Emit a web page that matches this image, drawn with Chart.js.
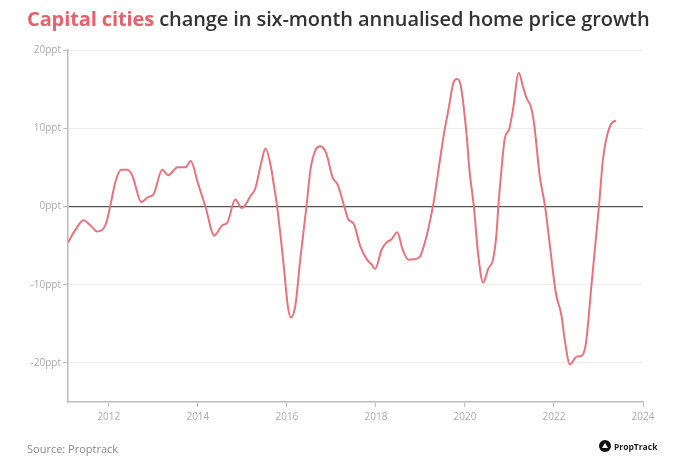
<!DOCTYPE html>
<html>
<head>
<meta charset="utf-8">
<script src="https://cdn.jsdelivr.net/npm/chart.js@4"></script>
<style>
  html, body { margin: 0; padding: 0; background: #fff; }
  #wrap { position: relative; width: 675px; height: 475px; overflow: hidden; }
  #titulo {
    position: absolute; left: 27px; top: 5px; margin: 0;
    font-family: "Open Sans", sans-serif; font-weight: 600; font-size: 20px;
    color: #333; white-space: nowrap; letter-spacing: -0.1px;
  }
  #titulo span { color: #e8606b; font-weight: 700; }
  #fuente {
    position: absolute; left: 27px; top: 441px;
    font-family: "Open Sans", sans-serif; font-size: 11px; color: #888;
  }
  #logo {
    position: absolute; left: 599px; top: 440px;
    font-family: "Open Sans", sans-serif; font-size: 8.5px; font-weight: 700; color: #222;
    display: flex; align-items: center; gap: 3px;
  }
  #logo i {
    display: inline-block; width: 12px; height: 12px; border-radius: 50%; background: #111;
    position: relative;
  }
  #logo i::after {
    content: ""; position: absolute; left: 3px; top: 3px;
    border-left: 3px solid transparent; border-right: 3px solid transparent;
    border-bottom: 5px solid #fff;
  }
  canvas { position: absolute; left: 0; top: 0; }
</style>
</head>
<body>
<div id="wrap">
  <canvas id="grafica" width="675" height="475"></canvas>
  <p id="titulo"><span>Capital cities</span> change in six-month annualised home price growth</p>
  <div id="fuente">Source: Proptrack</div>
  <div id="logo"><i></i>PropTrack</div>
</div>
<script>
// fechas en años decimales (feb 2011 .. may 2023), valores en ppt
const fechas = [
  2011.08, 2011.25, 2011.43, 2011.6, 2011.74, 2011.93, 2012.03, 2012.15, 2012.28, 2012.42,
  2012.53, 2012.73, 2012.88, 2013.0, 2013.2, 2013.33, 2013.55, 2013.72, 2013.84, 2014.0,
  2014.17, 2014.37, 2014.55, 2014.66, 2014.84, 2014.99, 2015.18, 2015.29, 2015.42, 2015.52,
  2015.64, 2015.70, 2015.78, 2015.93, 2016.02, 2016.09, 2016.19, 2016.30, 2016.44, 2016.53,
  2016.65, 2016.75, 2016.88, 2017.03, 2017.14, 2017.29, 2017.38, 2017.5, 2017.65, 2017.8,
  2017.9, 2017.98, 2018.13, 2018.24, 2018.35, 2018.48, 2018.6, 2018.73, 2018.95, 2019.03,
  2019.28, 2019.44, 2019.52, 2019.63, 2019.74, 2019.82, 2019.9, 2020.04, 2020.1, 2020.2,
  2020.3, 2020.41, 2020.52, 2020.63, 2020.71, 2020.75, 2020.82, 2020.89, 2021.0, 2021.08,
  2021.21, 2021.3, 2021.38, 2021.49, 2021.56, 2021.68, 2021.8, 2021.91, 2022.04, 2022.17,
  2022.24, 2022.36, 2022.51, 2022.62, 2022.72, 2022.84, 2023.01, 2023.1, 2023.17, 2023.28,
  2023.39
];
const crecimiento = [
  -4.6, -3.0, -1.75, -2.5, -3.2, -2.3, 0, 3.2, 4.7, 4.7,
  3.9, 0.55, 1.2, 1.5, 4.7, 4.0, 5.0, 5.0, 5.8, 3.0,
  0, -3.7, -2.4, -2.1, 0.9, -0.2, 1.3, 2.3, 5.5, 7.4,
  5.1, 3.0, 0, -7.6, -12.7, -14.2, -12.7, -6.8, 0, 4.7,
  7.3, 7.7, 6.85, 3.66, 2.8, 0, -1.66, -2.2, -5.1, -6.8,
  -7.4, -8.0, -5.5, -4.6, -4.2, -3.3, -5.5, -6.8, -6.6, -5.9,
  0, 6.0, 9.0, 12.4, 15.8, 16.3, 15.6, 9.0, 4.7, 0,
  -6.3, -9.75, -8.0, -6.8, -3.4, 0, 4.7, 8.5, 10.0, 12.4,
  17.1, 15.4, 13.9, 12.6, 10.3, 3.9, 0, -5.1, -11.0, -14.0,
  -17.0, -20.2, -19.2, -19.1, -17.4, -10.2, 0, 6.0, 8.5, 10.5,
  11.0
];
const ticksAnio = [2012, 2014, 2016, 2018, 2020, 2022, 2024];
const ticksPpt = [-20, -10, 0, 10, 20];

const puntos = fechas.map((f, i) => ({ x: f, y: crecimiento[i] }));
const fuenteEje = { family: "Open Sans", size: 10 };

new Chart(document.getElementById("grafica"), {
  type: "line",
  data: {
    datasets: [{
      data: puntos,
      borderColor: "#e8737c",
      borderWidth: 2,
      pointRadius: 0,
      cubicInterpolationMode: "monotone",
      fill: false,
    }]
  },
  options: {
    responsive: false,
    animation: false,
    layout: { padding: { left: 0, right: 32, top: 50, bottom: 48 } },
    plugins: { legend: { display: false }, tooltip: { enabled: false } },
    scales: {
      x: {
        type: "linear",
        min: 2011.083,
        max: 2024,
        afterBuildTicks: s => { s.ticks = ticksAnio.map(v => ({ value: v })); },
        ticks: { color: "#aaa", font: fuenteEje, padding: 4, maxRotation: 0, callback: v => String(v) },
        grid: { drawOnChartArea: false, drawTicks: true, tickLength: 5, tickColor: "#bbb" },
        border: { color: "#bbb", width: 1.5 },
      },
      y: {
        min: -25,
        max: 20,
        afterBuildTicks: s => { s.ticks = ticksPpt.map(v => ({ value: v })); },
        afterFit: s => { s.width = 68; },
        ticks: { color: "#aaa", font: fuenteEje, padding: 2, callback: v => v + "ppt" },
        grid: {
          color: c => c.tick && c.tick.value === 0 ? "#555" : "#eee",
          lineWidth: c => c.tick && c.tick.value === 0 ? 1.3 : 1,
          tickLength: 5,
          tickColor: "#bbb",
        },
        border: { color: "#bbb", width: 1.5 },
      }
    }
  }
});
</script>
</body>
</html>
